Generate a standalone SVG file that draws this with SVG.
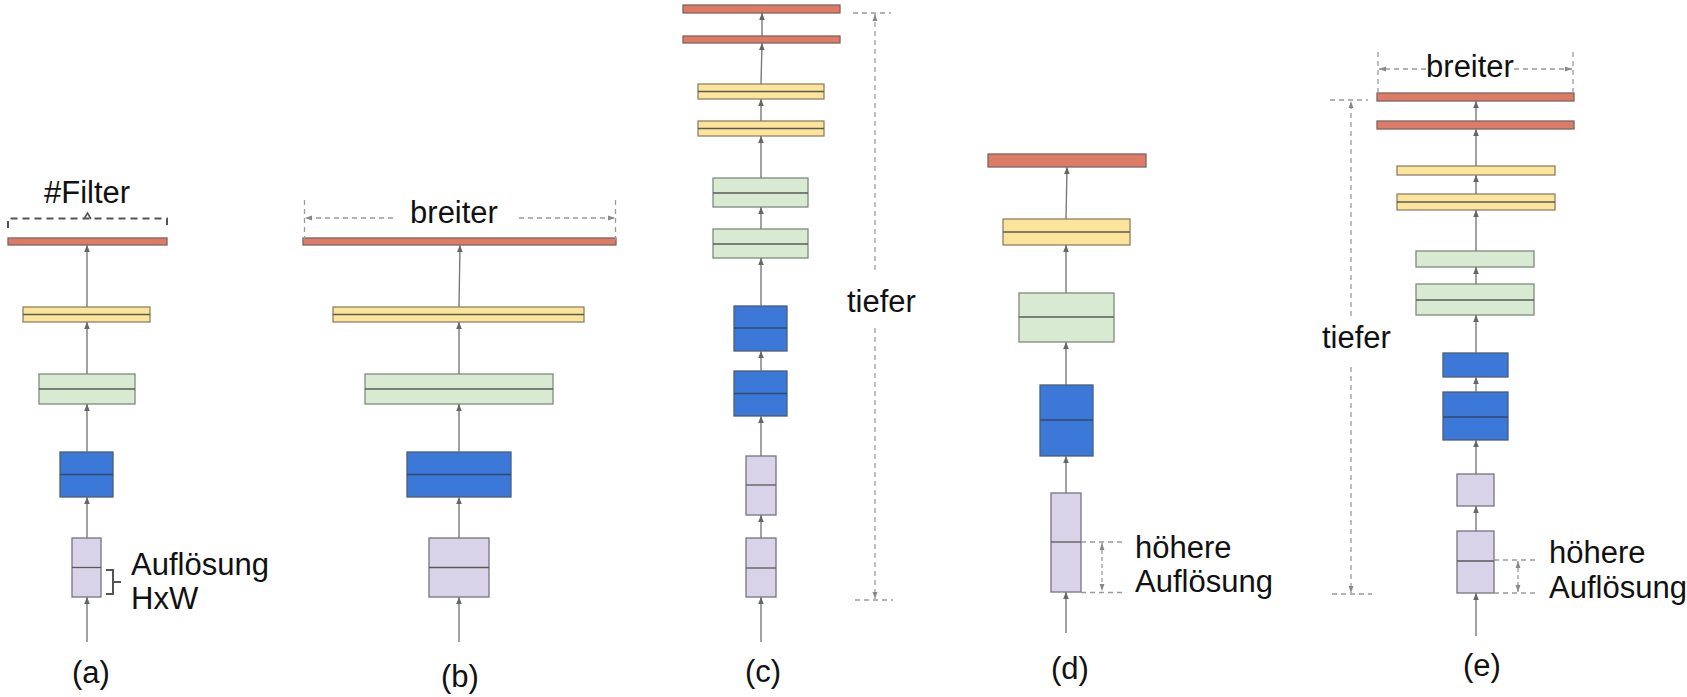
<svg xmlns="http://www.w3.org/2000/svg" width="1687" height="697" viewBox="0 0 1687 697">
<style>
.red{fill:#de7b67;stroke:#7d6560;stroke-width:1.3}
.yel{fill:#fde49b;stroke:#8d8266;stroke-width:1.3}
.grn{fill:#d9ead3;stroke:#7f8a7c;stroke-width:1.3}
.blu{fill:#3c78d8;stroke:#4d5d75;stroke-width:1.3}
.pur{fill:#d9d3e9;stroke:#77737f;stroke-width:1.3}
.mid{stroke:#5a5a5a;stroke-width:1.3}
.bmid{stroke:#34496b;stroke-width:1.6}
.arr{stroke:#7a7a7a;stroke-width:1.4;fill:none;marker-end:url(#ah)}
.dash{stroke:#9a9a9a;stroke-width:1.3;stroke-dasharray:5 4;fill:none}
.darr{stroke:#9a9a9a;stroke-width:1.3;stroke-dasharray:5 4;fill:none;marker-end:url(#dh)}
.dbl{stroke:#9a9a9a;stroke-width:1.3;stroke-dasharray:4 3;fill:none;marker-start:url(#dh);marker-end:url(#dh)}
.t{font-family:"Liberation Sans",Arial,sans-serif;font-size:31px;fill:#111}
.lab{font-family:"Liberation Sans",Arial,sans-serif;font-size:31px;fill:#111;text-anchor:middle}
</style>
<defs>
<marker id="ah" viewBox="0 0 10 10" refX="10" refY="5" markerWidth="7" markerHeight="7" orient="auto" markerUnits="userSpaceOnUse"><path d="M0,1 L10,5 L0,9 z" fill="#666"/></marker>
<marker id="dh" viewBox="0 0 10 10" refX="10" refY="5" markerWidth="7" markerHeight="7" orient="auto-start-reverse" markerUnits="userSpaceOnUse"><path d="M0,1.5 L10,5 L0,8.5 z" fill="#888"/></marker>
</defs>
<rect x="0" y="0" width="1687" height="697" fill="#ffffff"/>

<!-- Panel (a) -->
<g id="a-red"><rect class="red" x="8" y="238" width="159" height="7"/></g>
<g id="a-yellow"><rect class="yel" x="23" y="307" width="127" height="15"/><line class="mid" x1="23" y1="314.5" x2="150" y2="314.5"/></g>
<g id="a-green"><rect class="grn" x="39" y="374" width="96" height="30"/><line class="mid" x1="39" y1="389" x2="135" y2="389"/></g>
<g id="a-blue"><rect class="blu" x="60" y="452" width="53" height="45"/><line class="bmid" x1="60" y1="474.5" x2="113" y2="474.5"/></g>
<g id="a-purple"><rect class="pur" x="72" y="538" width="29" height="59"/><line class="mid" x1="72" y1="567.5" x2="101" y2="567.5"/></g>
<g id="a-filter"><path d="M8,228 L8,218.5 L167,218.5 L167,228" fill="none" stroke="#555" stroke-width="2" stroke-dasharray="7 5"/><path d="M84,219 L87.5,213 L91,219" fill="none" stroke="#555" stroke-width="1.6"/><text class="t" x="44" y="203">#Filter</text></g>
<g id="a-res"><path d="M106,570 L113,570 L113,594 L106,594 M113,582 L121,582" fill="none" stroke="#555" stroke-width="2"/><text class="t" x="131" y="575">Auflösung</text><text class="t" x="131" y="609">HxW</text></g>
<text class="lab" x="91" y="683">(a)</text>

<!-- Panel (b) -->
<g id="b-red"><rect class="red" x="303" y="238" width="313" height="7"/></g>
<g id="b-yellow"><rect class="yel" x="333" y="307" width="251" height="15"/><line class="mid" x1="333" y1="314.5" x2="584" y2="314.5"/></g>
<g id="b-green"><rect class="grn" x="365" y="374" width="188" height="30"/><line class="mid" x1="365" y1="389" x2="553" y2="389"/></g>
<g id="b-blue"><rect class="blu" x="407" y="452" width="104" height="45"/><line class="bmid" x1="407" y1="474.5" x2="511" y2="474.5"/></g>
<g id="b-purple"><rect class="pur" x="429" y="538" width="60" height="59"/><line class="mid" x1="429" y1="567.5" x2="489" y2="567.5"/></g>
<g id="b-wider"><line class="dash" x1="304.5" y1="200" x2="304.5" y2="240"/><line class="dash" x1="615.5" y1="200" x2="615.5" y2="240"/><line class="darr" x1="393" y1="218" x2="305" y2="218"/><line class="darr" x1="519" y1="218" x2="615" y2="218"/><text class="t" x="454" y="223" text-anchor="middle">breiter</text></g>
<text class="lab" x="460" y="687">(b)</text>

<!-- Panel (c) -->
<g id="c-red1"><rect class="red" x="683" y="5" width="157" height="8"/></g>
<g id="c-red2"><rect class="red" x="683" y="36" width="157" height="7"/></g>
<g id="c-yellow1"><rect class="yel" x="698" y="84" width="126" height="15"/><line class="mid" x1="698" y1="91.5" x2="824" y2="91.5"/></g>
<g id="c-yellow2"><rect class="yel" x="698" y="121" width="126" height="15"/><line class="mid" x1="698" y1="128.5" x2="824" y2="128.5"/></g>
<g id="c-green1"><rect class="grn" x="713" y="178" width="95" height="29"/><line class="mid" x1="713" y1="193" x2="808" y2="193"/></g>
<g id="c-green2"><rect class="grn" x="713" y="229" width="95" height="29"/><line class="mid" x1="713" y1="244" x2="808" y2="244"/></g>
<g id="c-blue1"><rect class="blu" x="734" y="306" width="53" height="45"/><line class="bmid" x1="734" y1="328" x2="787" y2="328"/></g>
<g id="c-blue2"><rect class="blu" x="734" y="371" width="53" height="45"/><line class="bmid" x1="734" y1="393.5" x2="787" y2="393.5"/></g>
<g id="c-purple1"><rect class="pur" x="746" y="456" width="30" height="59"/><line class="mid" x1="746" y1="485" x2="776" y2="485"/></g>
<g id="c-purple2"><rect class="pur" x="746" y="538" width="30" height="59"/><line class="mid" x1="746" y1="568" x2="776" y2="568"/></g>
<g id="c-deeper"><line class="dash" x1="853" y1="13" x2="891" y2="13"/><line class="darr" x1="875" y1="270" x2="875" y2="14"/><line class="darr" x1="875" y1="328" x2="875" y2="599"/><line class="dash" x1="855" y1="600" x2="893" y2="600"/><text class="t" x="847" y="312">tiefer</text></g>
<text class="lab" x="763" y="682">(c)</text>

<!-- Panel (d) -->
<g id="d-red"><rect class="red" x="988" y="154" width="158" height="13"/></g>
<g id="d-yellow"><rect class="yel" x="1003" y="219" width="127" height="26"/><line class="mid" x1="1003" y1="232" x2="1130" y2="232"/></g>
<g id="d-green"><rect class="grn" x="1019" y="293" width="95" height="49"/><line class="mid" x1="1019" y1="317" x2="1114" y2="317"/></g>
<g id="d-blue"><rect class="blu" x="1040" y="385" width="53" height="71"/><line class="bmid" x1="1040" y1="420" x2="1093" y2="420"/></g>
<g id="d-purple"><rect class="pur" x="1051" y="493" width="30" height="99"/><line class="mid" x1="1051" y1="542" x2="1081" y2="542"/></g>
<g id="d-res"><line class="dash" x1="1081" y1="542" x2="1122" y2="542"/><line class="dash" x1="1081" y1="592.5" x2="1122" y2="592.5"/><line class="dbl" x1="1102" y1="543" x2="1102" y2="591"/><text class="t" x="1135" y="558">höhere</text><text class="t" x="1135" y="592">Auflösung</text></g>
<text class="lab" x="1070" y="679">(d)</text>

<!-- Panel (e) -->
<g id="e-red1"><rect class="red" x="1377" y="93" width="197" height="8"/></g>
<g id="e-red2"><rect class="red" x="1377" y="121" width="197" height="8"/></g>
<g id="e-yellow1"><rect class="yel" x="1397" y="166" width="158" height="9"/></g>
<g id="e-yellow2"><rect class="yel" x="1397" y="194" width="158" height="16"/><line class="mid" x1="1397" y1="202" x2="1555" y2="202"/></g>
<g id="e-green1"><rect class="grn" x="1416" y="251" width="118" height="16"/></g>
<g id="e-green2"><rect class="grn" x="1416" y="284" width="118" height="31"/><line class="mid" x1="1416" y1="300" x2="1534" y2="300"/></g>
<g id="e-blue1"><rect class="blu" x="1443" y="353" width="65" height="24"/></g>
<g id="e-blue2"><rect class="blu" x="1443" y="392" width="65" height="48"/><line class="bmid" x1="1443" y1="417" x2="1508" y2="417"/></g>
<g id="e-purple1"><rect class="pur" x="1457" y="474" width="37" height="32"/></g>
<g id="e-purple2"><rect class="pur" x="1457" y="531" width="37" height="62"/><line class="mid" x1="1457" y1="561" x2="1494" y2="561"/></g>
<g id="e-wider"><line class="dash" x1="1378" y1="52" x2="1378" y2="92"/><line class="dash" x1="1573" y1="52" x2="1573" y2="92"/><line class="darr" x1="1426" y1="69" x2="1379" y2="69"/><line class="darr" x1="1514" y1="69" x2="1572" y2="69"/><text class="t" x="1470" y="77" text-anchor="middle">breiter</text></g>
<g id="e-deeper"><line class="dash" x1="1330" y1="100" x2="1368" y2="100"/><line class="darr" x1="1351" y1="316" x2="1351" y2="101"/><line class="darr" x1="1351" y1="367" x2="1351" y2="593"/><line class="dash" x1="1332" y1="594" x2="1372" y2="594"/><text class="t" x="1322" y="348">tiefer</text></g>
<g id="e-res"><line class="dash" x1="1494" y1="560" x2="1537" y2="560"/><line class="dash" x1="1494" y1="593" x2="1537" y2="593"/><line class="dbl" x1="1518" y1="561" x2="1518" y2="592"/><text class="t" x="1549" y="563">höhere</text><text class="t" x="1549" y="598">Auflösung</text></g>
<text class="lab" x="1482" y="676">(e)</text>

<!-- Connectors -->
<g id="connectors">
<line class="arr" x1="87" y1="642" x2="87" y2="597"/>
<line class="arr" x1="87" y1="538" x2="87" y2="497"/>
<line class="arr" x1="87" y1="452" x2="87" y2="404"/>
<line class="arr" x1="87" y1="374" x2="87" y2="322"/>
<line class="arr" x1="87" y1="307" x2="87" y2="245"/>

<line class="arr" x1="459" y1="642" x2="459" y2="597"/>
<line class="arr" x1="459" y1="538" x2="459" y2="497"/>
<line class="arr" x1="459" y1="452" x2="459" y2="404"/>
<line class="arr" x1="459" y1="374" x2="459" y2="322"/>
<line class="arr" x1="459" y1="307" x2="460" y2="245"/>

<line class="arr" x1="761" y1="642" x2="761" y2="597"/>
<line class="arr" x1="761" y1="538" x2="761" y2="515"/>
<line class="arr" x1="761" y1="456" x2="761" y2="416"/>
<line class="arr" x1="761" y1="371" x2="761" y2="351"/>
<line class="arr" x1="761" y1="306" x2="761" y2="258"/>
<line class="arr" x1="761" y1="229" x2="761" y2="207"/>
<line class="arr" x1="761" y1="178" x2="761" y2="136"/>
<line class="arr" x1="761" y1="121" x2="761" y2="99"/>
<line class="arr" x1="761" y1="84" x2="762" y2="43"/>
<line class="arr" x1="762" y1="36" x2="762" y2="13"/>

<line class="arr" x1="1066" y1="633" x2="1066" y2="592"/>
<line class="arr" x1="1066" y1="493" x2="1066" y2="456"/>
<line class="arr" x1="1066" y1="385" x2="1066" y2="342"/>
<line class="arr" x1="1066" y1="293" x2="1066" y2="245"/>
<line class="arr" x1="1066" y1="219" x2="1067" y2="167"/>

<line class="arr" x1="1476" y1="636" x2="1476" y2="593"/>
<line class="arr" x1="1476" y1="531" x2="1476" y2="506"/>
<line class="arr" x1="1476" y1="474" x2="1476" y2="440"/>
<line class="arr" x1="1476" y1="392" x2="1476" y2="377"/>
<line class="arr" x1="1476" y1="353" x2="1476" y2="315"/>
<line class="arr" x1="1476" y1="284" x2="1476" y2="267"/>
<line class="arr" x1="1476" y1="251" x2="1476" y2="210"/>
<line class="arr" x1="1476" y1="194" x2="1476" y2="175"/>
<line class="arr" x1="1476" y1="166" x2="1476" y2="129"/>
<line class="arr" x1="1476" y1="121" x2="1476" y2="101"/>
</g>
</svg>
